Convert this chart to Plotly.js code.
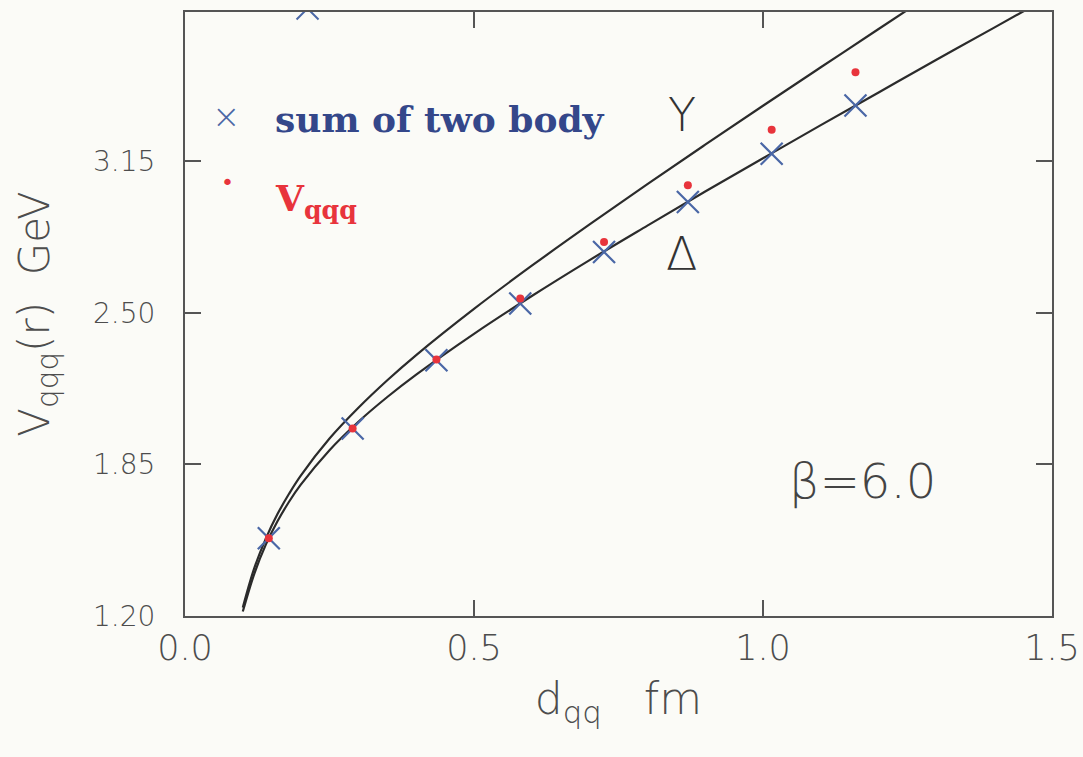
<!DOCTYPE html>
<html>
<head>
<meta charset="utf-8">
<script src="https://cdn.plot.ly/plotly-3.0.1.min.js"></script>
<style>
  html, body { margin: 0; padding: 0; background: #fbfbf7; }
  #chart { width: 1083px; height: 757px; }
</style>
</head>
<body>
<div id="chart"></div>
<script>
// quark separation d_qq (fm) of the lattice configurations
const dqq = [0.145, 0.29, 0.435, 0.58, 0.725, 0.87, 1.015, 1.16];
// sum of the two-body potentials (GeV)
const sumTwoBody = [1.533, 2.004, 2.297, 2.540, 2.761, 2.975, 3.182, 3.389];
// three-quark potential V_qqq (GeV)
const vqqq = [1.533, 2.004, 2.300, 2.561, 2.804, 3.047, 3.285, 3.532];
// one more cross sitting on the upper frame edge
const edgeCrossX = [0.212];
const edgeCrossY = [3.805];

// Delta-shaped (lower) and Y-shaped (upper) string curves
const deltaR = [0.10, 0.12, 0.14, 0.16, 0.18, 0.20, 0.25, 0.30, 0.35, 0.40, 0.50, 0.60, 0.70, 0.80, 0.90, 1.00, 1.10, 1.20, 1.30, 1.40, 1.46];
const deltaV = [1.219, 1.382, 1.507, 1.606, 1.690, 1.762, 1.911, 2.033, 2.139, 2.235, 2.410, 2.572, 2.726, 2.874, 3.020, 3.163, 3.305, 3.445, 3.585, 3.723, 3.806];
const yR = [0.10, 0.12, 0.14, 0.16, 0.18, 0.20, 0.25, 0.30, 0.35, 0.40, 0.50, 0.60, 0.70, 0.80, 0.90, 1.00, 1.10, 1.20, 1.25];
const yV = [1.236, 1.406, 1.533, 1.637, 1.724, 1.801, 1.961, 2.093, 2.211, 2.319, 2.517, 2.702, 2.879, 3.052, 3.221, 3.388, 3.553, 3.717, 3.799];

// axis ticks
const xTickVals = [0.0, 0.5, 1.0, 1.5];
const xTickText = ['0.0', '0.5', '1.0', '1.5'];
const yTickVals = [1.20, 1.85, 2.50, 3.15];
const yTickText = ['1.20', '1.85', '2.50', '3.15'];

const ink = '#2b2b2b';
const frame = '#555555';
const crossBlue = '#4a67a6';
const dotRed = '#e8343c';
const labelGray = '#4d4d4d';
const thinSans = 'DejaVu Sans';

const traces = [
  { x: deltaR, y: deltaV, mode: 'lines', line: { color: ink, width: 2.2, shape: 'spline' }, hoverinfo: 'skip' },
  { x: yR, y: yV, mode: 'lines', line: { color: ink, width: 2.2, shape: 'spline' }, hoverinfo: 'skip' },
  { x: dqq, y: sumTwoBody, mode: 'markers',
    marker: { symbol: 'x-thin', size: 22, color: crossBlue, line: { color: crossBlue, width: 2.2 } } },
  { x: edgeCrossX, y: edgeCrossY, mode: 'markers',
    marker: { symbol: 'x-thin', size: 22, color: crossBlue, line: { color: crossBlue, width: 2 } } },
  { x: dqq, y: vqqq, mode: 'markers',
    marker: { symbol: 'circle', size: 8, color: dotRed, line: { width: 0 } } }
];

const axisCommon = {
  ticks: 'inside', ticklen: 16, tickwidth: 2, tickcolor: frame,
  showline: true, linecolor: frame, linewidth: 2, mirror: 'ticks',
  showgrid: false, zeroline: false, ticklabeloverflow: 'allow'
};

const serifBold = { family: 'DejaVu Serif', size: 36, weight: 700 };

const layout = {
  width: 1083, height: 757,
  margin: { l: 185, r: 31, t: 12, b: 141 },
  paper_bgcolor: '#fbfbf7', plot_bgcolor: '#fbfbf7',
  showlegend: false,
  xaxis: Object.assign({}, axisCommon, {
    range: [0, 1.5], tickmode: 'array', tickvals: xTickVals, ticktext: xTickText,
    tickfont: { family: thinSans, size: 35, color: labelGray, weight: 200 },
    title: { text: 'd<sub>qq</sub>\u00a0\u00a0\u00a0fm', standoff: 16,
             font: { family: thinSans, size: 44, color: labelGray, weight: 200 } }
  }),
  yaxis: Object.assign({}, axisCommon, {
    range: [1.2, 3.79], tickmode: 'array', tickvals: yTickVals, ticktext: yTickText,
    tickfont: { family: thinSans, size: 28, color: labelGray, weight: 200 },
    ticklabelstandoff: 22,
    title: { text: 'V<sub>qqq</sub>(r)\u00a0\u00a0GeV', standoff: 30,
             font: { family: thinSans, size: 42, color: labelGray, weight: 200 } }
  }),
  annotations: [
    { xref: 'x', yref: 'y', x: 0.072, y: 3.342, text: '\u00d7', showarrow: false,
      font: { family: thinSans, size: 34, color: crossBlue, weight: 200 } },
    { xref: 'x', yref: 'y', x: 0.152, y: 3.33, xanchor: 'left', text: 'sum of two body', showarrow: false,
      font: Object.assign({ color: '#34478a' }, serifBold) },
    { xref: 'x', yref: 'y', x: 0.074, y: 3.06, text: '\u2022', showarrow: false,
      font: { family: thinSans, size: 22, color: dotRed } },
    { xref: 'x', yref: 'y', x: 0.152, y: 3.09, xanchor: 'left', yanchor: 'top', text: 'V<sub>qqq</sub>', showarrow: false,
      font: Object.assign({ color: dotRed }, serifBold) },
    { xref: 'x', yref: 'y', x: 0.859, y: 3.347, text: 'Y', showarrow: false,
      font: { family: thinSans, size: 46, color: '#333', weight: 200 } },
    { xref: 'x', yref: 'y', x: 0.859, y: 2.751, text: '\u0394', showarrow: false,
      font: { family: thinSans, size: 46, color: '#333', weight: 200 } },
    { xref: 'x', yref: 'y', x: 1.172, y: 1.778, text: '\u03b2=6.0', showarrow: false,
      font: { family: thinSans, size: 48, color: '#444', weight: 200 } }
  ]
};

Plotly.newPlot('chart', traces, layout, { displayModeBar: false, staticPlot: true });
</script>
</body>
</html>
